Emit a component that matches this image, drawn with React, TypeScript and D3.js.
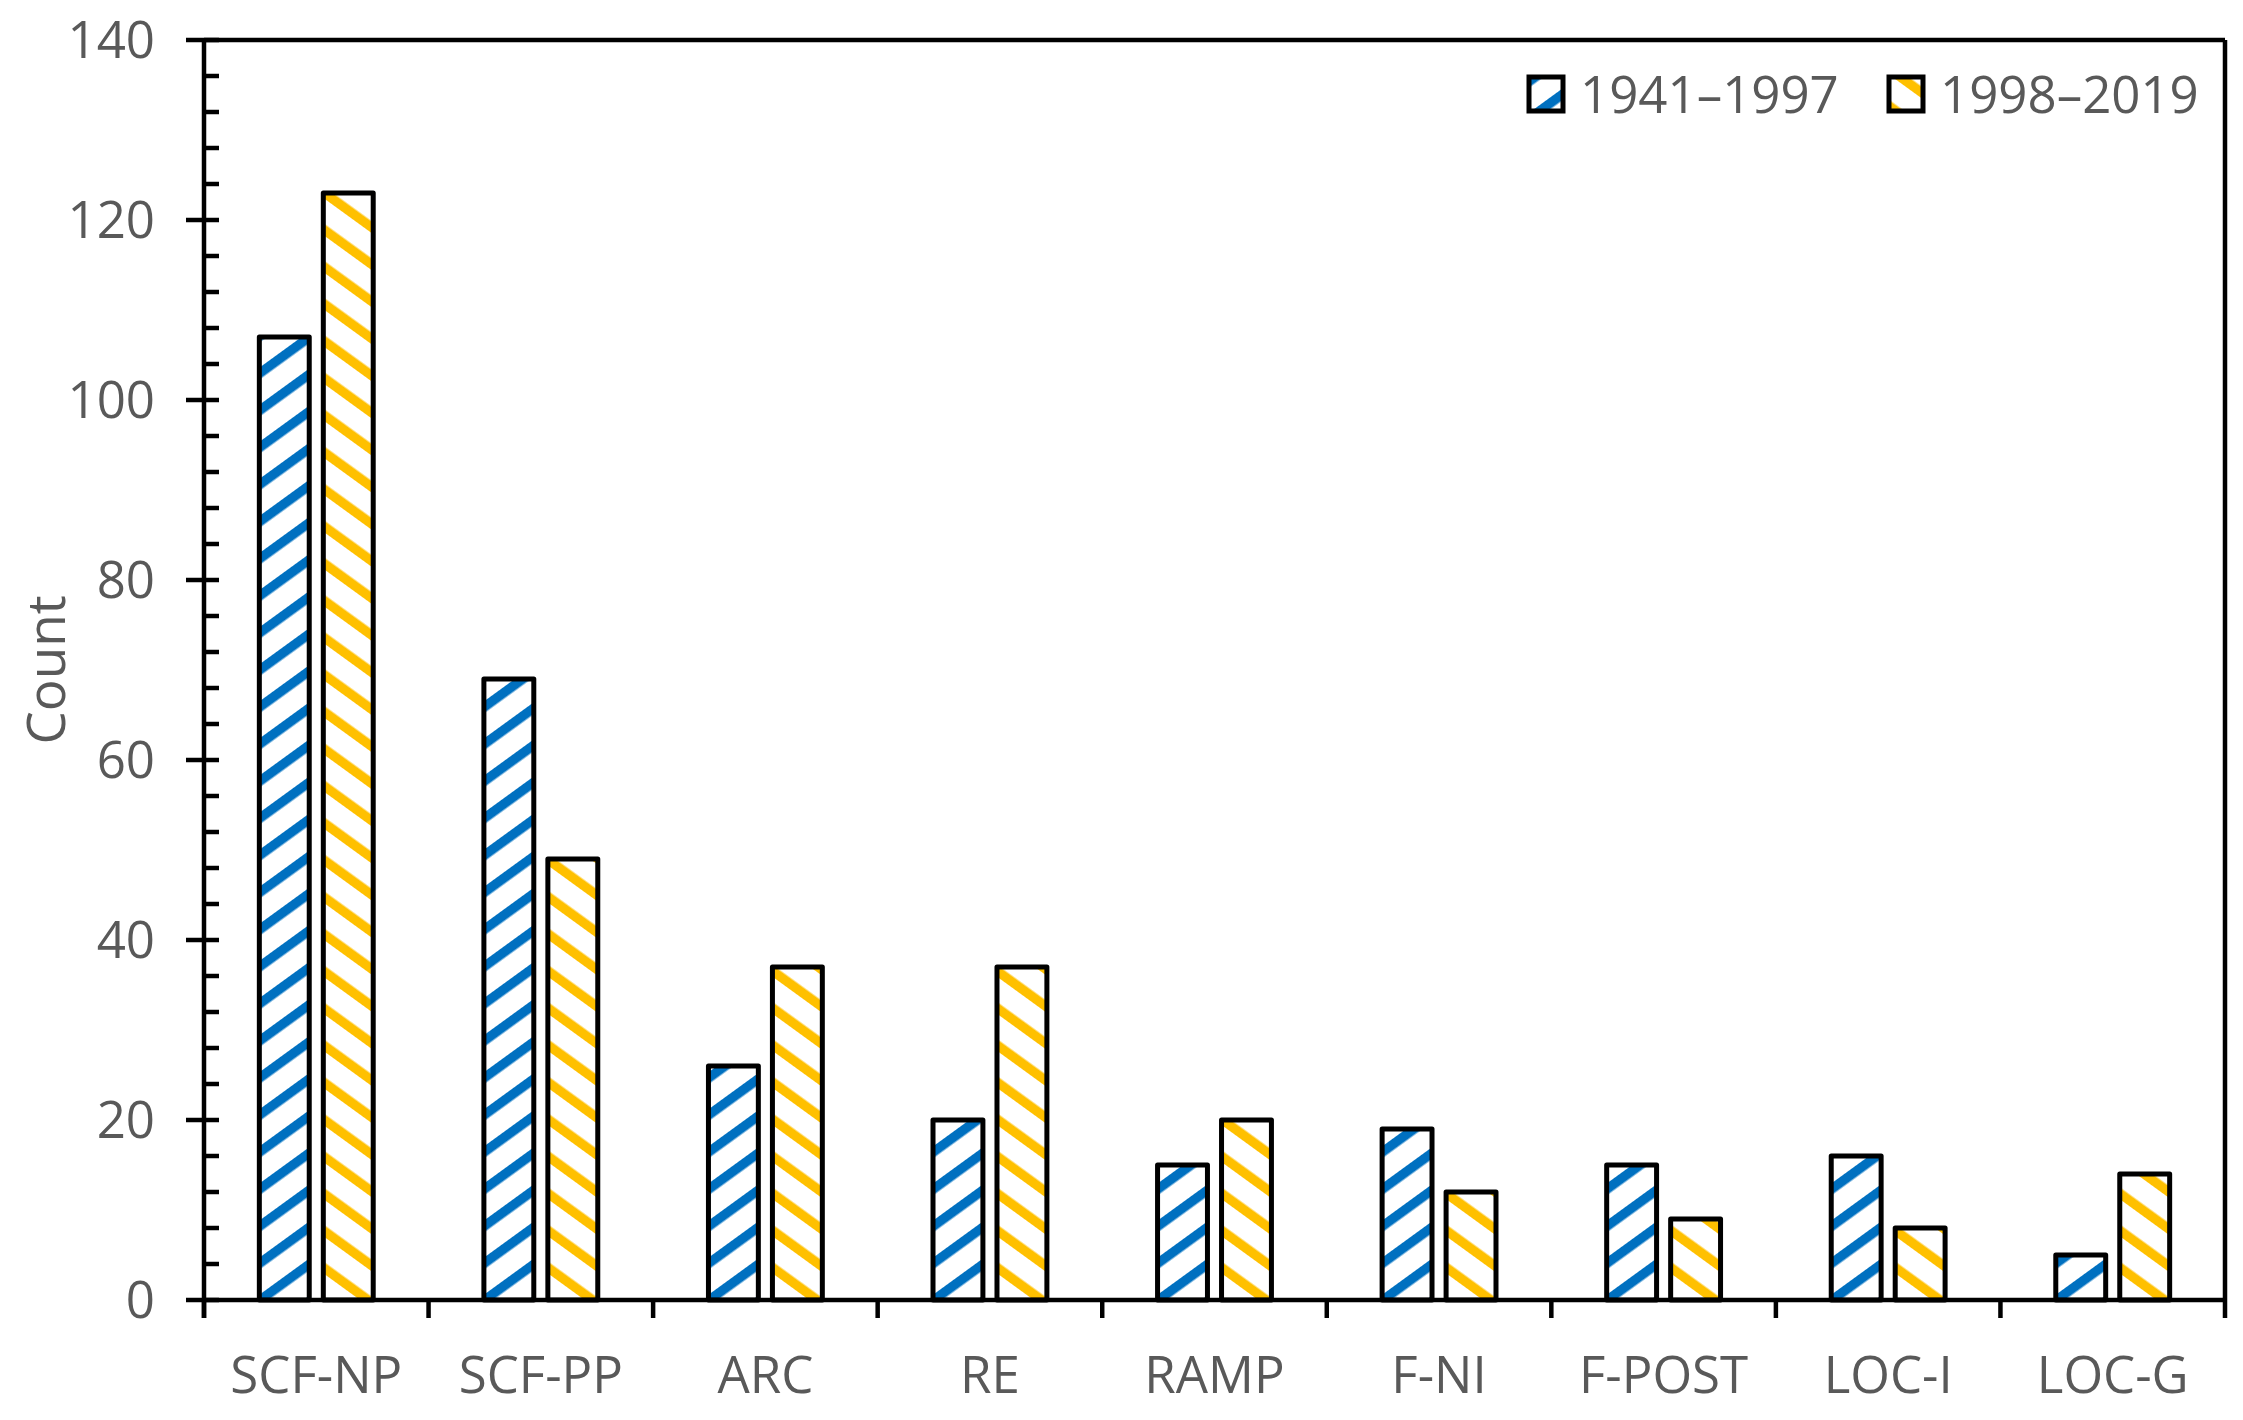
import { useEffect } from "react";
import * as d3 from "d3";

const categories = ["SCF-NP", "SCF-PP", "ARC", "RE", "RAMP", "F-NI", "F-POST", "LOC-I", "LOC-G"];
const series = ["1941\u20131997", "1998\u20132019"];
const early = [107, 69, 26, 20, 15, 19, 15, 16, 5];
const late = [123, 49, 37, 37, 20, 12, 9, 8, 14];
const yTicks = [0, 20, 40, 60, 80, 100, 120, 140];

const W = 2243, H = 1420;
const margin = { top: 40, right: 18, bottom: 120, left: 204 };
const textCol = "#595959";
const font = "'Open Sans', 'Noto Sans', sans-serif";
const colors = ["#0070C0", "#FFC000"];

export default function App() {
  useEffect(() => {
    document.body.style.margin = "0";
  }, []);

  const x0 = d3.scaleBand().domain(categories).range([margin.left, W - margin.right]);
  const x1 = d3.scaleBand().domain(series).range([0, x0.bandwidth()]).paddingInner(0.22).paddingOuter(0.865);
  const y = d3.scaleLinear().domain([0, 140]).range([H - margin.bottom, margin.top]);
  const minor = d3.range(0, 141, 4).filter((v) => v % 20 !== 0);
  const vals = [early, late];
  const x0r = x0.range();
  const base = y(0);

  return (
    <svg width={W} height={H} style={{ display: "block", background: "#fff" }}>
      <defs>
        {/* diagonal stripes, blue goes "/" and yellow goes "\" */}
        {colors.map((c, i) => (
          <pattern
            key={i}
            id={"stripe" + i}
            patternUnits="userSpaceOnUse"
            width={30}
            height={10}
            patternTransform={`rotate(${i === 0 ? 54 : -54})`}
          >
            <rect width={30} height={10} fill="#fff" />
            <rect x={0} width={9.5} height={10} fill={c} />
          </pattern>
        ))}
      </defs>

      {/* bars */}
      {categories.map((cat, ci) => (
        <g key={cat} transform={`translate(${x0(cat)},0)`}>
          {series.map((s, si) => (
            <rect
              key={s}
              x={x1(s)}
              y={y(vals[si][ci])}
              width={x1.bandwidth()}
              height={base - y(vals[si][ci])}
              fill={`url(#stripe${si})`}
              stroke="#000"
              strokeWidth={5}
              strokeLinejoin="round"
            />
          ))}
        </g>
      ))}

      {/* frame */}
      <line x1={x0r[0]} x2={x0r[1]} y1={y(140)} y2={y(140)} stroke="#000" strokeWidth={4.5} />
      <line x1={x0r[1]} x2={x0r[1]} y1={y(140)} y2={base + 18} stroke="#000" strokeWidth={4.5} />

      {/* y axis */}
      <line x1={x0r[0]} x2={x0r[0]} y1={y(140)} y2={base + 18} stroke="#000" strokeWidth={4.5} />
      {yTicks.map((t) => (
        <g key={t}>
          <line x1={x0r[0] - 18} x2={x0r[0] + 15} y1={y(t)} y2={y(t)} stroke="#000" strokeWidth={4.5} />
          <text
            x={x0r[0] - 49}
            y={y(t) + 18}
            textAnchor="end"
            fontFamily={font}
            fontSize={51}
            fill={textCol}
          >
            {t}
          </text>
        </g>
      ))}
      {minor.map((t) => (
        <line key={t} x1={x0r[0]} x2={x0r[0] + 15} y1={y(t)} y2={y(t)} stroke="#000" strokeWidth={4.5} />
      ))}
      <text
        transform={`translate(65,${(y(0) + y(140)) / 2}) rotate(-90)`}
        textAnchor="middle"
        fontFamily={font}
        fontSize={53}
        fill={textCol}
      >
        Count
      </text>

      {/* x axis */}
      <line x1={x0r[0]} x2={x0r[1]} y1={base} y2={base} stroke="#000" strokeWidth={4.5} />
      {categories.map((cat) => (
        <g key={cat}>
          <line x1={x0(cat)!} x2={x0(cat)!} y1={base} y2={base + 18} stroke="#000" strokeWidth={4.5} />
          <text
            x={x0(cat)! + x0.bandwidth() / 2}
            y={base + 93}
            textAnchor="middle"
            fontFamily={font}
            fontSize={51}
            fill={textCol}
          >
            {cat}
          </text>
        </g>
      ))}

      {/* legend */}
      {series.map((s, i) => {
        const lx = 1529 + i * 360;
        return (
          <g key={s}>
            <rect x={lx} y={77} width={34} height={34} fill={`url(#stripe${i})`} stroke="#000" strokeWidth={5} />
            <text x={lx + 51} y={113} fontFamily={font} fontSize={51} fill={textCol}>
              {s}
            </text>
          </g>
        );
      })}
    </svg>
  );
}
